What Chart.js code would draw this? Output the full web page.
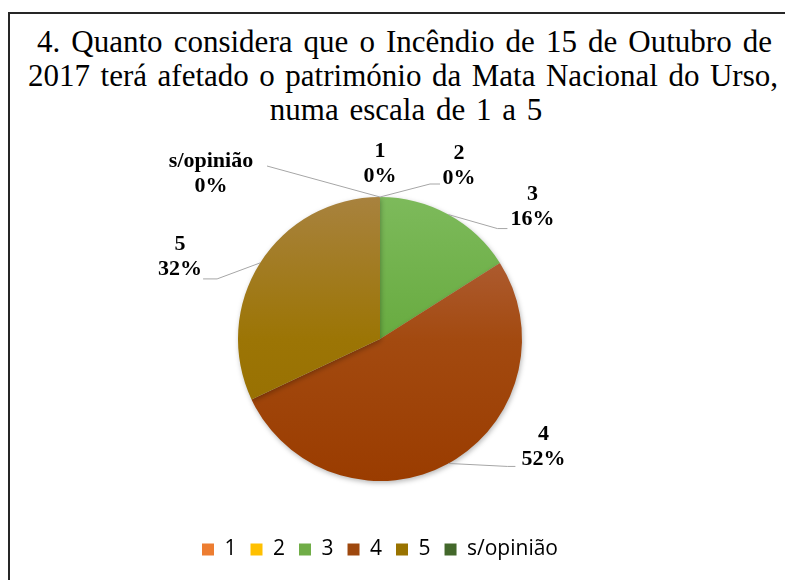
<!DOCTYPE html>
<html>
<head>
<meta charset="utf-8">
<script src="https://cdn.jsdelivr.net/npm/chart.js@4.4.1/dist/chart.umd.min.js"></script>
<style>
  html, body { margin: 0; padding: 0; background: #fff; overflow: hidden; }
  body { width: 785px; height: 580px; position: relative; }
  #frame {
    position: absolute; left: 8px; top: 12px; width: 800px; height: 600px;
    border-left: 2px solid #262626; border-top: 2px solid #262626;
  }
  .title-line {
    position: absolute; font-family: "Liberation Serif", "Times New Roman", serif;
    font-size: 31px; line-height: 34px; color: #000; white-space: nowrap;
  }
  .justify { text-align: justify; text-align-last: justify; white-space: normal; }
  #chart-box { position: absolute; left: 8px; top: 139px; width: 777px; height: 480px; }
</style>
</head>
<body>
<div id="frame"></div>
<div class="title-line justify" style="left:37px; top:25px; width:735px;">4. Quanto considera que o Incêndio de 15 de Outubro de</div>
<div class="title-line justify" style="left:28px; top:59px; width:750px;">2017 terá afetado o património da Mata Nacional do Urso,</div>
<div class="title-line" style="left:0; top:93px; width:812px; text-align:center; word-spacing:3px;">numa escala de 1 a 5</div>
<div id="chart-box"><canvas id="chart"></canvas></div>

<script>
// Data
const categories = ['1', '2', '3', '4', '5', 's/opinião'];
const percentages = [0, 0, 16, 52, 32, 0];

// Solid colours (legend) and gradient colours for the slices
const baseColors = ['#ed7d31', '#ffc000', '#70ad47', '#9e480e', '#997300', '#43682b'];
const topColors = ['#f29a5e', '#ffd04d', '#7dba5b', '#b5694a', '#a8823e', '#5a8040'];
const midColors = ['#e5732a', '#f5b800', '#68ab40', '#a34a10', '#9c7505', '#3f6528'];
const bottomColors = ['#d8661a', '#e8ad00', '#5a9f30', '#9a3c00', '#946c00', '#385a22'];

// Where each label sits relative to the outer middle point of its slice,
// and where its leader line ends relative to the label centre
const labelOffsets = [[0, -33], [79, -31], [84, -8], [95, -17], [-80, -6], [-169, -23]];
const leaderEnds = [null, [-19, 18, -10], [-25, 22, -10], [-28, 20, -8], [23, 22, 14], [56, -8, 0]];

// Vertical gradient over the whole pie, like the Excel fill
function sliceFill(context) {
  const chart = context.chart;
  const meta = chart.getDatasetMeta(0);
  const area = chart.chartArea;
  if (!area || !meta.controller.outerRadius) return baseColors[context.dataIndex];
  const cy = (area.top + area.bottom) / 2;
  const r = meta.controller.outerRadius;
  const g = chart.ctx.createLinearGradient(0, cy - r, 0, cy + r);
  g.addColorStop(0, topColors[context.dataIndex]);
  g.addColorStop(0.5, midColors[context.dataIndex]);
  g.addColorStop(1, bottomColors[context.dataIndex]);
  return g;
}

// Soft shadow around the pie
const pieShadow = {
  id: 'pieShadow',
  beforeDatasetsDraw(chart) {
    const ctx = chart.ctx;
    ctx.save();
    ctx.shadowColor = 'rgba(0, 0, 0, 0.28)';
    ctx.shadowBlur = 5;
    ctx.shadowOffsetX = 1;
    ctx.shadowOffsetY = 2;
  },
  afterDatasetsDraw(chart) {
    chart.ctx.restore();
  }
};

// Data labels with grey leader lines
const sliceLabels = {
  id: 'sliceLabels',
  afterDatasetsDraw(chart) {
    const ctx = chart.ctx;
    const meta = chart.getDatasetMeta(0);
    ctx.save();
    meta.data.forEach((arc, i) => {
      const p = arc.getProps(['x', 'y', 'startAngle', 'endAngle', 'outerRadius'], true);
      const mid = (p.startAngle + p.endAngle) / 2;
      const px = p.x + Math.cos(mid) * p.outerRadius;
      const py = p.y + Math.sin(mid) * p.outerRadius;
      const lx = px + labelOffsets[i][0];
      const ly = py + labelOffsets[i][1];

      const lead = leaderEnds[i];
      if (lead) {
        const ex = lx + lead[0];
        const ey = ly + lead[1];
        ctx.strokeStyle = '#a6a6a6';
        ctx.lineWidth = 1;
        ctx.beginPath();
        ctx.moveTo(px, py);
        ctx.lineTo(ex + lead[2], ey);
        ctx.lineTo(ex, ey);
        ctx.stroke();
      }

      ctx.fillStyle = '#000';
      ctx.font = 'bold 22px "Liberation Serif", "Times New Roman", serif';
      ctx.textAlign = 'center';
      ctx.textBaseline = 'middle';
      ctx.fillText(categories[i], lx, ly - 12.5);
      ctx.fillText(percentages[i] + '%', lx, ly + 12.5);
    });
    ctx.restore();
  }
};

const chart = new Chart(document.getElementById('chart'), {
  type: 'pie',
  data: {
    labels: categories,
    datasets: [{
      data: percentages,
      backgroundColor: sliceFill,
      borderWidth: 0,
      radius: 142
    }]
  },
  options: {
    responsive: true,
    maintainAspectRatio: false,
    animation: false,
    layout: { padding: { top: 14, right: 33, bottom: 49, left: 0 } },
    plugins: {
      tooltip: { enabled: false },
      title: { display: false },
      legend: {
        position: 'bottom',
        labels: {
          boxWidth: 12,
          boxHeight: 12,
          padding: 14,
          color: '#404040',
          font: { family: '"Open Sans", "Liberation Sans", sans-serif', size: 21 },
          generateLabels: chart => categories.map((c, i) => ({
            text: c,
            fillStyle: baseColors[i],
            strokeStyle: baseColors[i],
            lineWidth: 0,
            hidden: !chart.getDataVisibility(i),
            index: i
          }))
        }
      }
    }
  },
  plugins: [pieShadow, sliceLabels]
});
</script>
</body>
</html>
